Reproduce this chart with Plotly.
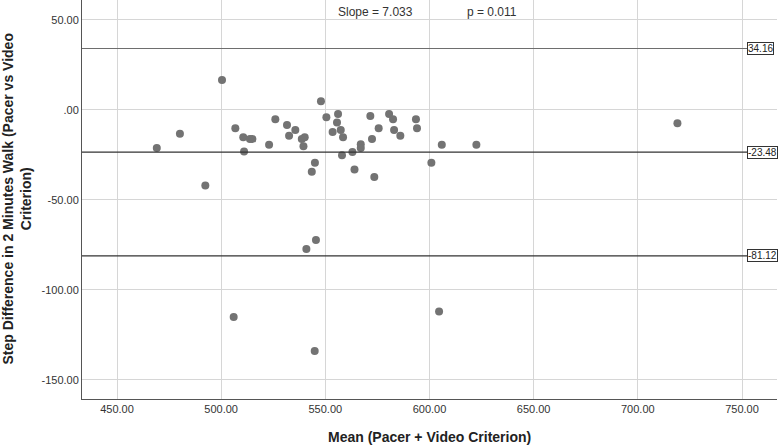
import plotly.graph_objects as go

# Data
mean_vals = [469.1, 480.2, 492.4, 500.4, 506.8, 506.0, 510.6, 511.0, 513.8, 515.0,
             523.0, 526.0, 531.6, 532.6, 535.6, 538.7, 540.1, 539.5, 540.9, 543.5,
             545.0, 544.9, 545.5, 547.9, 550.5, 553.5, 555.6, 556.1, 557.4, 558.0,
             558.5, 563.0, 564.0, 567.0, 567.0, 571.6, 572.4, 573.5, 575.6, 580.6,
             582.5, 583.0, 586.0, 593.5, 594.0, 600.9, 604.6, 605.9, 622.5, 719.0]
diff_vals = [-21.1, -13.2, -42.0, 16.7, -10.2, -115.0, -15.2, -23.1, -16.1, -16.1,
             -19.3, -5.2, -8.3, -14.3, -11.1, -16.1, -15.2, -20.2, -77.2, -34.3,
             -29.3, -133.9, -72.2, 4.8, -4.1, -12.2, -7.0, -2.2, -11.1, -25.2,
             -15.2, -23.3, -33.1, -19.1, -21.1, -3.3, -16.1, -37.2, -10.2, -2.2,
             -5.2, -11.1, -14.3, -5.2, -10.2, -29.3, -112.0, -19.3, -19.3, -7.4]

ref_lines = [34.16, -23.48, -81.12]
ref_labels = ["34.16", "-23.48", "-81.12"]
ref_colors = ["#6e6e6e", "#333333", "#333333"]

x_tickvals = [450, 500, 550, 600, 650, 700, 750]
x_ticktext = ["450.00", "500.00", "550.00", "600.00", "650.00", "700.00", "750.00"]
y_tickvals = [50, 0, -50, -100, -150]
y_ticktext = ["50.00", ".00", "-50.00", "-100.00", "-150.00"]

slope_text = "Slope = 7.033"
p_text = "p = 0.011"

FONT = "Liberation Sans, Arial, sans-serif"

fig = go.Figure()
fig.add_trace(go.Scatter(
    x=mean_vals, y=diff_vals, mode="markers",
    marker=dict(size=8, color="#737373", line=dict(width=0)),
    showlegend=False, hoverinfo="x+y"))

line_end = 0.957
for val, lab, col in zip(ref_lines, ref_labels, ref_colors):
    fig.add_shape(type="line", xref="paper", yref="y", x0=0, x1=line_end,
                  y0=val, y1=val, line=dict(color=col, width=1.2))
    fig.add_annotation(xref="paper", yref="y", x=line_end, y=val, text=lab,
                       showarrow=False, xanchor="left", yanchor="middle",
                       font=dict(family=FONT, size=10, color="#222"),
                       bordercolor="#333", borderwidth=1, borderpad=0,
                       bgcolor="white")

fig.add_annotation(xref="x", yref="paper", x=574.3, y=0.97, text=slope_text,
                   showarrow=False, xanchor="center", yanchor="middle",
                   font=dict(family=FONT, size=12, color="#333"))
fig.add_annotation(xref="x", yref="paper", x=630.0, y=0.97, text=p_text,
                   showarrow=False, xanchor="center", yanchor="middle",
                   font=dict(family=FONT, size=12, color="#333"))

# axis titles
fig.add_annotation(xref="paper", yref="paper", x=-66/695, y=0.5,
                   text="<b>Step Difference in 2 Minutes Walk (Pacer vs Video<br>Criterion)</b>",
                   textangle=-90, showarrow=False, xanchor="center", yanchor="middle",
                   font=dict(family=FONT, size=14, color="#222"))
fig.add_annotation(xref="paper", yref="paper", x=0.5, y=-38/399,
                   text="<b>Mean (Pacer + Video Criterion)</b>",
                   showarrow=False, xanchor="center", yanchor="middle",
                   font=dict(family=FONT, size=14, color="#222"))

fig.update_xaxes(range=[433.2, 766.8], tickvals=x_tickvals, ticktext=x_ticktext,
                 showgrid=True, gridcolor="#d6d6d6", gridwidth=1,
                 showline=True, linecolor="#555", linewidth=1, zeroline=False,
                 ticks="", tickfont=dict(family=FONT, size=11, color="#333"))
fig.update_yaxes(range=[-160.6, 61.1], tickvals=y_tickvals, ticktext=y_ticktext,
                 showgrid=True, gridcolor="#d6d6d6", gridwidth=1,
                 showline=True, linecolor="#555", linewidth=1, zeroline=False,
                 ticks="", tickfont=dict(family=FONT, size=11, color="#333"))

fig.update_layout(width=778, height=448,
                  margin=dict(l=82, r=1, t=0, b=49, autoexpand=False),
                  paper_bgcolor="white", plot_bgcolor="white",
                  font=dict(family=FONT))

fig.write_html("out.html", config={"displayModeBar": False},
               post_script="document.body.style.margin='0';")
